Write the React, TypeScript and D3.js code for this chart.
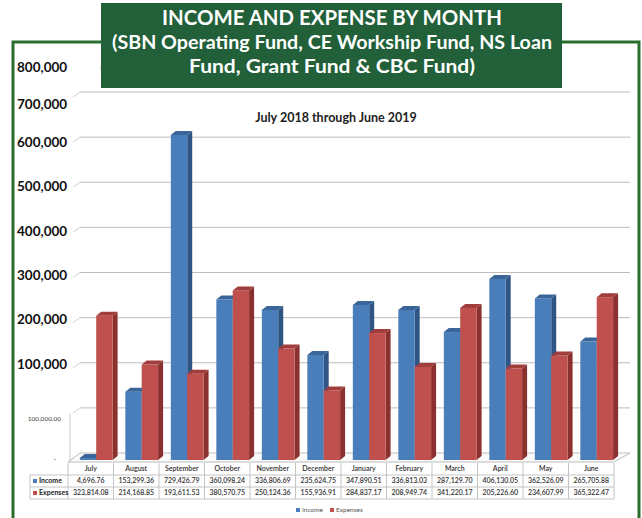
import React from "react";
import * as d3 from "d3";

const months = ["July","August","September","October","November","December","January","February","March","April","May","June"];
const income = [4696.76,153299.36,729426.79,360098.24,336806.69,235624.75,347890.51,336813.03,287129.7,406130.05,362526.09,265705.88];
const expenses = [323814.08,214168.85,193611.53,380570.75,250124.36,155936.91,284837.17,208949.74,341220.17,205226.6,234607.99,365322.47];
const gridValues = [0,100000,200000,300000,400000,500000,600000,700000,800000];
const overlayTicks = [800000,700000,600000,500000,400000,300000,200000,100000];
const titleLines = ["INCOME AND EXPENSE BY MONTH","(SBN Operating Fund, CE Workship Fund, NS Loan","Fund, Grant Fund & CBC Fund)"];
const titleWidths = [340, 440, 286];
const subtitle = "July 2018 through June 2019";
const seriesNames = ["Income","Expenses"];

const W = 642, H = 518;
const GREEN = "#22603a";
const FRAME = "#2a6e2e";
const BLUE = { front: "#4a7ebb", side: "#2f5584", top: "#3a6598" };
const RED = { front: "#c0504d", side: "#8a302e", top: "#a13d3a" };
const FONT = "Lato, 'Open Sans', sans-serif";

export default function App() {
  const x = d3.scaleBand<string>().domain(months).range([68, 614]);
  const bw = x.bandwidth();
  const yBar = d3.scaleLinear().domain([0, 800000]).range([460, 103.5]);
  const yWall = d3.scaleLinear().domain([0, 800000]).range([453, 92]);
  const yOverlay = d3.scaleLinear().domain([100000, 600000, 800000]).range([364, 142, 67]);
  const dx = 5, dy = 4;
  const fmt = d3.format(",.2f");
  const fmtTick = d3.format(",");

  const bar = (xs: number, w: number, v: number, c: { front: string; side: string; top: string }, key: string) => {
    const yt = yBar(v), yb = yBar(0);
    return (
      <g key={key}>
        <polygon points={`${xs + w},${yt} ${xs + w + dx},${yt - dy} ${xs + w + dx},${yb - dy} ${xs + w},${yb}`} fill={c.side} />
        <rect x={xs} y={yt} width={w} height={yb - yt} fill={c.front} />
        <polygon points={`${xs},${yt} ${xs + w},${yt} ${xs + w + dx},${yt - dy} ${xs + dx},${yt - dy}`} fill={c.top} />
      </g>
    );
  };

  const tblTop = 463, rowH = 12;
  const tblLeft = 30;

  return (
    <svg width={W} height={H} style={{ position: "absolute", left: 0, top: 0, background: "#fff" }}>
      <rect x={0} y={0} width={W} height={H} fill="#fff" />
      {/* green frame */}
      <rect x={13} y={42} width={626} height={H} fill="none" stroke={FRAME} strokeWidth={3} />
      {/* back wall gridlines */}
      {gridValues.slice(1).map((v) => (
        <g key={"g" + v}>
          <line x1={80} x2={630} y1={yWall(v)} y2={yWall(v)} stroke="#bdbdbd" strokeWidth={1} />
          <line x1={73} x2={80} y1={yWall(v) + 5} y2={yWall(v)} stroke="#d0d0d0" strokeWidth={1} />
        </g>
      ))}
      <line x1={70} x2={70} y1={yWall(100000) + 6} y2={462} stroke="#c8c8c8" />
      {/* floor */}
      <polygon points={`68,462 614,462 630,${yWall(0)} 80,${yWall(0)}`} fill="#fafafa" stroke="#bdbdbd" strokeWidth={1} />
      {/* bars */}
      {months.map((m, i) => {
        const x0 = x(m)!;
        const w = bw * 0.36;
        const bx = x0 + bw * 0.26;
        return (
          <g key={m}>
            {bar(bx, w, income[i], BLUE, "i" + i)}
            {bar(bx + w, w, expenses[i], RED, "e" + i)}
          </g>
        );
      })}
      {/* subtitle */}
      <text x={336} y={122} textAnchor="middle" fontFamily={FONT} fontWeight={700} fontSize={12.5} fill="#222">{subtitle}</text>
      {/* original small axis labels */}
      <text x={61} y={421} textAnchor="end" fontFamily={FONT} fontSize={6.5} fill="#444">{fmt(100000)}</text>
      <text x={56} y={462} textAnchor="end" fontFamily={FONT} fontSize={7} fill="#444">-</text>
      {/* overlay axis labels */}
      {overlayTicks.map((v) => (
        <text key={"o" + v} x={17} y={yOverlay(v)} dy="0.35em" fontFamily={FONT} fontWeight={700} fontSize={13.5} fill="#111">{fmtTick(v)}</text>
      ))}
      {/* data table */}
      <g fontFamily={FONT} fontSize={7} fill="#333">
        {months.map((m, i) => {
          const x0 = x(m)!;
          return (
            <g key={"t" + m}>
              <line x1={x0} x2={x0} y1={tblTop} y2={tblTop + rowH * 3} stroke="#c4c4c4" />
              <text x={x0 + bw / 2} y={tblTop + rowH * 0.5} dy="0.35em" textAnchor="middle" fontWeight={600}>{m}</text>
              <text x={x0 + bw / 2} y={tblTop + rowH * 1.5} dy="0.35em" textAnchor="middle" fontWeight={600}>{fmt(income[i])}</text>
              <text x={x0 + bw / 2} y={tblTop + rowH * 2.5} dy="0.35em" textAnchor="middle" fontWeight={600}>{fmt(expenses[i])}</text>
            </g>
          );
        })}
        <line x1={614} x2={614} y1={tblTop} y2={tblTop + rowH * 3} stroke="#c4c4c4" />
        <line x1={tblLeft} x2={614} y1={tblTop + rowH} y2={tblTop + rowH} stroke="#c4c4c4" />
        <line x1={tblLeft} x2={614} y1={tblTop + rowH * 2} y2={tblTop + rowH * 2} stroke="#c4c4c4" />
        <line x1={tblLeft} x2={614} y1={tblTop + rowH * 3} y2={tblTop + rowH * 3} stroke="#c4c4c4" />
        <line x1={tblLeft} x2={tblLeft} y1={tblTop + rowH} y2={tblTop + rowH * 3} stroke="#c4c4c4" />
        {seriesNames.map((s, i) => (
          <g key={"l" + s}>
            <rect x={tblLeft + 3} y={tblTop + rowH * (1.5 + i) - 2} width={4} height={4} fill={i === 0 ? BLUE.front : RED.front} />
            <text x={tblLeft + 9} y={tblTop + rowH * (1.5 + i)} dy="0.35em" fontWeight={700} fill="#222">{s}</text>
          </g>
        ))}
      </g>
      {/* legend */}
      <g fontFamily={FONT} fontSize={6.5} fill="#555">
        {seriesNames.map((s, i) => (
          <g key={"lg" + s} transform={`translate(${296 + i * 34},510)`}>
            <rect x={0} y={-2} width={4} height={4} fill={i === 0 ? BLUE.front : RED.front} />
            <text x={6} y={0} dy="0.35em">{s}</text>
          </g>
        ))}
      </g>
      {/* title box */}
      <text x={100} y={72} fontFamily={FONT} fontSize={14} fill="#bbb">(</text>
      <rect x={101} y={3} width={461} height={85} fill={GREEN} />
      {titleLines.map((t, i) => (
        <text key={"t" + i} x={332} y={25 + i * 24} textAnchor="middle" fontFamily={FONT} fontWeight={700} fontSize={i === 0 ? 20 : 19} fill="#fff" textLength={titleWidths[i]} lengthAdjust="spacingAndGlyphs">{t}</text>
      ))}
    </svg>
  );
}
